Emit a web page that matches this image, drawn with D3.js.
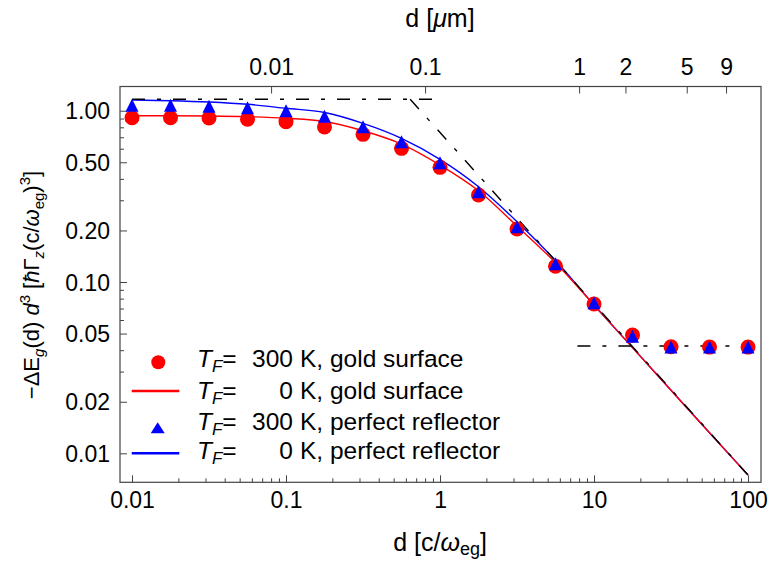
<!DOCTYPE html>
<html><head><meta charset="utf-8">
<script src="https://cdn.jsdelivr.net/npm/d3@7"></script>
<style>
body{margin:0;background:#fff}
svg{display:block}
text{font-family:"Liberation Sans",Arial,Helvetica,sans-serif;fill:#000}
</style>
</head><body>
<svg id="chart" width="770" height="562"></svg>
<script>
// ---- data ----
const distances = [0.01,0.01778,0.03162,0.05623,0.1,0.1778,0.3162,0.5623,1,1.778,3.162,5.623,10,17.78,31.62,56.23,100];
const gold300K    = [0.910,0.910,0.907,0.891,0.863,0.803,0.728,0.603,0.467,0.322,0.204,0.1235,0.0744,0.0490,0.0419,0.0417,0.0417];
const perfect300K = [1.044,1.044,1.030,1.012,0.972,0.9005,0.782,0.639,0.482,0.3265,0.204,0.124,0.0734,0.0469,0.0405,0.0405,0.0405];
const gold0K      = [0.935,0.934,0.931,0.9225,0.903,0.865,0.764,0.639,0.482,0.341,0.212,0.1296,0.0734,0.0414,0.02335,0.01317,0.00747];
const perfect0K   = [1.155,1.144,1.124,1.090,1.033,0.976,0.844,0.690,0.520,0.360,0.225,0.1335,0.0734,0.0414,0.02335,0.01317,0.00747];
const nearAsymD = [0.01, 1],      nearAsymV = [1.166, 1.166];
const farAsymD  = [0.64, 100],    farAsymV  = [1.166, 0.00746];
const thermAsymD = [7.8, 121],    thermAsymV = [0.0423, 0.0423];
const xTickValues = [0.01,0.1,1,10,100];
const xTickLabels = ["0.01","0.1","1","10","100"];
const xMinorTicks = [0.02,0.03,0.04,0.05,0.06,0.07,0.08,0.09,0.2,0.3,0.4,0.5,0.6,0.7,0.8,0.9,2,3,4,5,6,7,8,9,20,30,40,50,60,70,80,90];
const topTickUm = [0.01,0.1,1,2,5,9];
const topTickLabels = ["0.01","0.1","1","2","5","9"];
const umToNatural = 8; // 1 μm = 8 c/ω_eg
const yTickValues = [1,0.5,0.2,0.1,0.05,0.02,0.01];
const yTickLabels = ["1.00","0.50","0.20","0.10","0.05","0.02","0.01"];
const yMinorTicks = [0.03,0.04,0.06,0.07,0.08,0.09,0.3,0.4,0.6,0.7,0.8,0.9];
const legendNumbers = ["300","0","300","0"];
const legendRest = ["K, gold surface","K, gold surface","K, perfect reflector","K, perfect reflector"];

// ---- layout ----
const L = 120, R = 761, T = 86.5, B = 482.3;
const svg = d3.select("#chart");
const x = d3.scaleLog().domain([0.008357, 121.4]).range([L, R]);
const y = d3.scaleLog().domain([0.006773, 1.3846]).range([B, T]);
const RED = "#ff0000", BLUE = "#0000ff", FRAME = "#444";
const TICKFONT = "23px";

svg.append("defs").append("clipPath").attr("id","clip")
  .append("rect").attr("x",L).attr("y",T).attr("width",R-L).attr("height",B-T);

// axes
function styleAxis(g){ g.select(".domain").remove(); g.selectAll("line").attr("stroke",FRAME).attr("stroke-width",1); }
const gxB = svg.append("g").attr("transform",`translate(0,${B})`)
  .call(d3.axisBottom(x).tickValues(xTickValues).tickSizeInner(-7).tickSizeOuter(0).tickFormat((d,i)=>xTickLabels[i]));
styleAxis(gxB);
gxB.selectAll("text").attr("y",25.5).attr("dy",null).style("font-size",TICKFONT).attr("fill","#000");
const gxBm = svg.append("g").attr("transform",`translate(0,${B})`)
  .call(d3.axisBottom(x).tickValues(xMinorTicks).tickSizeInner(-4).tickSizeOuter(0).tickFormat(""));
styleAxis(gxBm);

const gxT = svg.append("g").attr("transform",`translate(0,${T})`)
  .call(d3.axisTop(x).tickValues(topTickUm.map(v=>v*umToNatural)).tickSizeInner(-7).tickSizeOuter(0).tickFormat((d,i)=>topTickLabels[i]));
styleAxis(gxT);
gxT.selectAll("text").attr("y",-11.5).attr("dy",null).style("font-size",TICKFONT).attr("fill","#000");

const gyL = svg.append("g").attr("transform",`translate(${L},0)`)
  .call(d3.axisLeft(y).tickValues(yTickValues).tickSizeInner(-7).tickSizeOuter(0).tickFormat((d,i)=>yTickLabels[i]));
styleAxis(gyL);
gyL.selectAll("text").attr("x",-10).attr("dy",null).attr("y",8).style("font-size",TICKFONT).attr("fill","#000");
const gyLm = svg.append("g").attr("transform",`translate(${L},0)`)
  .call(d3.axisLeft(y).tickValues(yMinorTicks).tickSizeInner(-4).tickSizeOuter(0).tickFormat(""));
styleAxis(gyLm);

// frame
svg.append("rect").attr("x",L).attr("y",T).attr("width",R-L).attr("height",B-T)
  .attr("fill","none").attr("stroke",FRAME).attr("stroke-width",1.2);

const plot = svg.append("g").attr("clip-path","url(#clip)");
const line = d3.line().x(p=>x(p[0])).y(p=>y(p[1])).curve(d3.curveMonotoneX);
const zip = (a,b)=>a.map((v,i)=>[v,b[i]]);

plot.append("path").attr("d",line(zip(distances,perfect0K))).attr("fill","none").attr("stroke",BLUE).attr("stroke-width",1.4);
plot.append("path").attr("d",line(zip(distances,gold0K))).attr("fill","none").attr("stroke",RED).attr("stroke-width",1.4);
const dash = "13,12,4,12";
[[nearAsymD,nearAsymV],[farAsymD,farAsymV],[thermAsymD,thermAsymV]].forEach(([dd,vv])=>{
  plot.append("path").attr("d",d3.line().x(p=>x(p[0])).y(p=>y(p[1]))(zip(dd,vv)))
    .attr("fill","none").attr("stroke","#000").attr("stroke-width",1.4).attr("stroke-dasharray",dash);
});

const tri = (w,h)=>`M0,${-2*h/3}L${w/2},${h/3}L${-w/2},${h/3}Z`;
plot.selectAll("circle.g").data(zip(distances,gold300K)).join("circle")
  .attr("cx",p=>x(p[0])).attr("cy",p=>y(p[1])).attr("r",7.5).attr("fill",RED);
plot.selectAll("path.t").data(zip(distances,perfect300K)).join("path").attr("class","t")
  .attr("d",tri(13,13)).attr("transform",p=>`translate(${x(p[0])},${y(p[1])})`).attr("fill",BLUE);

// legend
const LEGFONT = "24.5px";
const rowsY = [366.7,398.5,430,459];
const lg = svg.append("g");
lg.append("circle").attr("cx",158.3).attr("cy",362.3).attr("r",7).attr("fill",RED);
lg.append("line").attr("x1",131.7).attr("x2",179.3).attr("y1",391).attr("y2",391).attr("stroke",RED).attr("stroke-width",2.4);
lg.append("path").attr("d",tri(14,11)).attr("transform","translate(157.7,429.5)").attr("fill",BLUE);
lg.append("line").attr("x1",131.7).attr("x2",179.3).attr("y1",453.3).attr("y2",453.3).attr("stroke",BLUE).attr("stroke-width",2.4);
rowsY.forEach((by,i)=>{
  const t = lg.append("text").attr("x",197).attr("y",by).style("font-size",LEGFONT);
  t.append("tspan").style("font-style","italic").text("T");
  t.append("tspan").style("font-style","italic").style("font-size","17px").attr("dy",5).text("F");
  t.append("tspan").attr("dy",-5).text("=");
  lg.append("text").attr("x",293).attr("y",by).attr("text-anchor","end").style("font-size",LEGFONT).text(legendNumbers[i]);
  lg.append("text").attr("x",300).attr("y",by).style("font-size",LEGFONT).text(legendRest[i]);
});

// axis titles
const xt = svg.append("text").attr("x",440).attr("y",551).attr("text-anchor","middle").style("font-size","25px");
xt.append("tspan").text("d [c/");
xt.append("tspan").style("font-style","italic").text("ω");
xt.append("tspan").style("font-size","18px").attr("dy",4).text("eg");
xt.append("tspan").attr("dy",-4).text("]");

const tt = svg.append("text").attr("x",440).attr("y",27).attr("text-anchor","middle").style("font-size","25px");
tt.append("tspan").text("d [");
tt.append("tspan").style("font-style","italic").text("μ");
tt.append("tspan").text("m]");

const yt = svg.append("text").attr("transform","translate(39,285) rotate(-90)").attr("text-anchor","middle").style("font-size","22px");
yt.append("tspan").text("−ΔE");
yt.append("tspan").style("font-style","italic").style("font-size","15px").attr("dy",5).text("g");
yt.append("tspan").attr("dy",-5).text("(d) ");
yt.append("tspan").style("font-style","italic").text("d");
yt.append("tspan").style("font-size","15px").attr("dy",-9).text("3");
yt.append("tspan").attr("dy",9).text(" [");
yt.append("tspan").style("font-style","italic").text("ħ");
yt.append("tspan").text("Γ");
yt.append("tspan").style("font-style","italic").style("font-size","15px").attr("dy",5).text("z");
yt.append("tspan").attr("dy",-5).text("(c/");
yt.append("tspan").style("font-style","italic").text("ω");
yt.append("tspan").style("font-size","15px").attr("dy",5).text("eg");
yt.append("tspan").attr("dy",-5).text(")");
yt.append("tspan").style("font-size","15px").attr("dy",-9).text("3");
yt.append("tspan").attr("dy",9).text("]");
</script>
</body></html>
